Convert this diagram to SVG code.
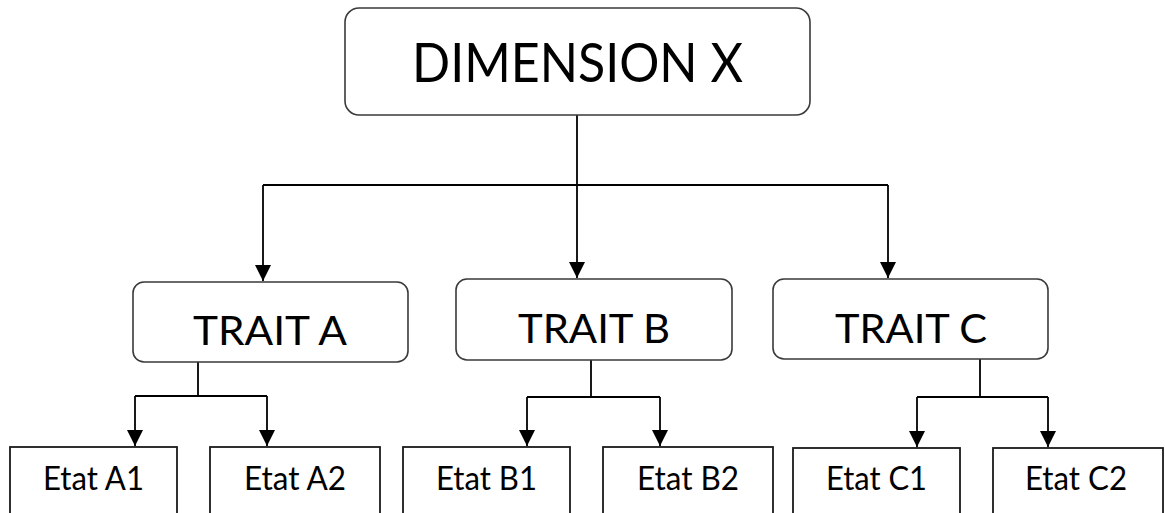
<svg xmlns="http://www.w3.org/2000/svg" width="1165" height="513" viewBox="0 0 1165 513">
  <style>
    .rbox { fill: #ffffff; stroke: #3a3a3a; stroke-width: 1.6; }
    .sbox { fill: #ffffff; stroke: #1a1a1a; stroke-width: 1.8; }
    .lbl { font-family: Lato, "Open Sans", sans-serif; fill: #000000; text-anchor: middle; }
    .big { font-size: 54px; }
    .mid { font-size: 41px; }
    .small { font-size: 32px; }
    .wire { fill: none; stroke: #000000; stroke-width: 1.8; }
  </style>
  <defs>
    <marker id="arrow" markerUnits="userSpaceOnUse" markerWidth="16" markerHeight="18" refX="16" refY="8" orient="auto">
      <path d="M0,0 L16,8 L0,16 Z" fill="#000000"/>
    </marker>
  </defs>
  <rect width="1165" height="513" fill="#ffffff"/>

  <g id="connectors">
    <path class="wire" d="M577,115 V185"/>
    <path class="wire" d="M263,185 H888"/>
    <path class="wire" d="M263,185 V281" marker-end="url(#arrow)"/>
    <path class="wire" d="M577,185 V278" marker-end="url(#arrow)"/>
    <path class="wire" d="M888,185 V278" marker-end="url(#arrow)"/>

    <path class="wire" d="M198,362 V396 M135,396 H267"/>
    <path class="wire" d="M135,396 V446" marker-end="url(#arrow)"/>
    <path class="wire" d="M267,396 V446" marker-end="url(#arrow)"/>

    <path class="wire" d="M591,360 V397 M527,397 H660"/>
    <path class="wire" d="M527,397 V446" marker-end="url(#arrow)"/>
    <path class="wire" d="M660,397 V446" marker-end="url(#arrow)"/>

    <path class="wire" d="M980,359 V397 M917,397 H1048"/>
    <path class="wire" d="M917,397 V447" marker-end="url(#arrow)"/>
    <path class="wire" d="M1048,397 V447" marker-end="url(#arrow)"/>
  </g>

  <g id="dimension-x">
    <rect class="rbox" x="345" y="8" width="465" height="107" rx="14"/>
    <text class="lbl big" x="577.5" y="82" textLength="331" lengthAdjust="spacingAndGlyphs">DIMENSION X</text>
  </g>

  <g id="trait-a">
    <rect class="rbox" x="133" y="282" width="275" height="80" rx="11"/>
    <text class="lbl mid" x="270" y="345" textLength="154" lengthAdjust="spacingAndGlyphs">TRAIT A</text>
  </g>
  <g id="trait-b">
    <rect class="rbox" x="456" y="279" width="276" height="81" rx="11"/>
    <text class="lbl mid" x="594" y="343" textLength="152" lengthAdjust="spacingAndGlyphs">TRAIT B</text>
  </g>
  <g id="trait-c">
    <rect class="rbox" x="773" y="279" width="275" height="80" rx="11"/>
    <text class="lbl mid" x="911" y="343" textLength="152" lengthAdjust="spacingAndGlyphs">TRAIT C</text>
  </g>

  <g id="etat-a1">
    <rect class="sbox" x="10" y="447" width="167" height="80"/>
    <text class="lbl small" x="93.5" y="490" textLength="101" lengthAdjust="spacingAndGlyphs">Etat A1</text>
  </g>
  <g id="etat-a2">
    <rect class="sbox" x="210" y="447" width="170" height="80"/>
    <text class="lbl small" x="295" y="490" textLength="102" lengthAdjust="spacingAndGlyphs">Etat A2</text>
  </g>
  <g id="etat-b1">
    <rect class="sbox" x="403" y="447" width="167" height="80"/>
    <text class="lbl small" x="486.5" y="490" textLength="101" lengthAdjust="spacingAndGlyphs">Etat B1</text>
  </g>
  <g id="etat-b2">
    <rect class="sbox" x="603" y="447" width="170" height="80"/>
    <text class="lbl small" x="688" y="490" textLength="102" lengthAdjust="spacingAndGlyphs">Etat B2</text>
  </g>
  <g id="etat-c1">
    <rect class="sbox" x="793" y="448" width="167" height="80"/>
    <text class="lbl small" x="876.5" y="490" textLength="101" lengthAdjust="spacingAndGlyphs">Etat C1</text>
  </g>
  <g id="etat-c2">
    <rect class="sbox" x="993" y="448" width="170" height="80"/>
    <text class="lbl small" x="1076" y="490" textLength="102" lengthAdjust="spacingAndGlyphs">Etat C2</text>
  </g>
</svg>
